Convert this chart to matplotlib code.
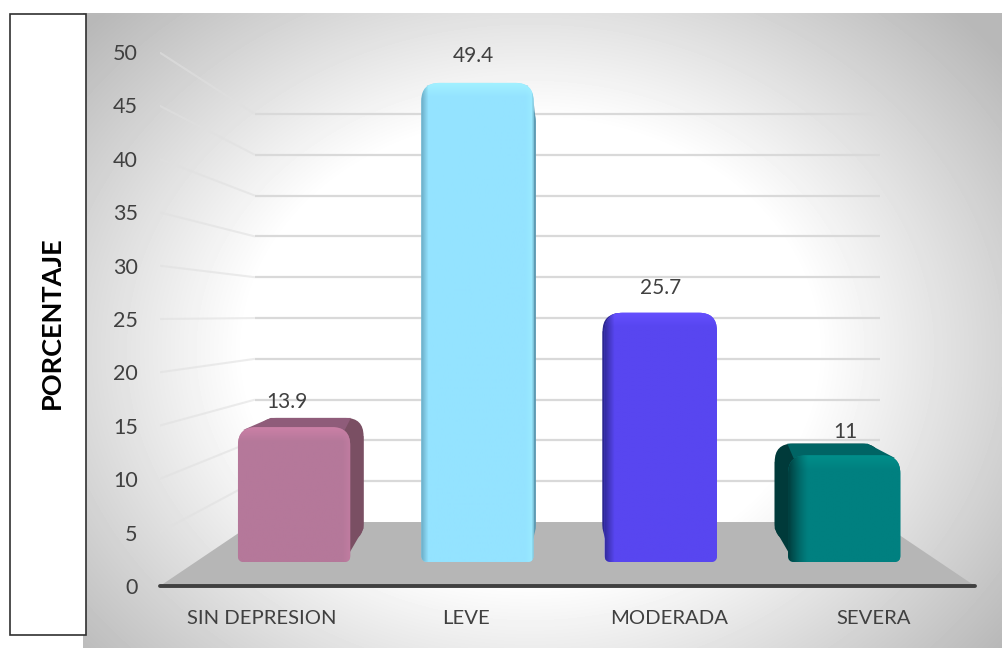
import numpy as np
import matplotlib
matplotlib.use("Agg")
import matplotlib.pyplot as plt
from matplotlib.patches import PathPatch, Polygon, Rectangle
from matplotlib.path import Path
from matplotlib.colors import to_rgb

# Chart data
categories = ["SIN DEPRESION", "LEVE", "MODERADA", "SEVERA"]
values = [13.9, 49.4, 25.7, 11]
y_ticks = list(range(0, 55, 5))
y_title = "PORCENTAJE"

# Per-bar colours: face, highlight, side wall, top wall
face_colors = ["#B5789A", "#94E3FF", "#5846F0", "#008080"]
glow_colors = ["#CB80A6", "#A2F2FF", "#6550FF", "#008E8A"]
side_colors = ["#7A4F63", "#5E9BB3", "#2C2790", "#003A3A"]
top_colors = ["#8F5C7A", "#7CC4DE", "#4A3CC8", "#006464"]
label_offsets = [(-5, 11.5), (-3, 19.5), (0, 18), (1, 8.5)]

W, H, DPI = 1003, 648, 100
AX_L, AX_R, AX_T, AX_B = 160, 975, 52, 586   # plot frame, in pixels
PX_X = (AX_R - AX_L) / 4.0                   # pixels per category unit
PX_Y = (AX_B - AX_T) / 50.0                  # pixels per value unit

# Perspective planes: (horizontal scale, height of value 0, vertical scale)
WALL = (0.767, 5.99, 0.764)
BAR_FRONT = (0.90, 2.25, 0.908)
BAR_BACK = (0.845, 4.2, 0.83)
BAR_HALF = 0.306
BAR_SHIFT = 0.008
CENTER = 1.5


def plane_x(cat, plane):
    return CENTER + (cat - CENTER) * plane[0]


def plane_y(val, plane):
    return plane[1] + val * plane[2]


def rounded(xl, xr, yb, yt, rx_t, ry_t, rx_b, ry_b):
    """Outline with separate corner radii for the top and bottom edges."""
    verts = [(xl, yb + ry_b), (xl, yt - ry_t), (xl, yt), (xl + rx_t, yt),
             (xr - rx_t, yt), (xr, yt), (xr, yt - ry_t),
             (xr, yb + ry_b), (xr, yb), (xr - rx_b, yb),
             (xl + rx_b, yb), (xl, yb), (xl, yb + ry_b), (xl, yb + ry_b)]
    codes = [Path.MOVETO, Path.LINETO, Path.CURVE3, Path.CURVE3,
             Path.LINETO, Path.CURVE3, Path.CURVE3,
             Path.LINETO, Path.CURVE3, Path.CURVE3,
             Path.LINETO, Path.CURVE3, Path.CURVE3, Path.CLOSEPOLY]
    return Path(verts, codes)


def blend(img, color, weight):
    """Mix a colour into an RGB array; weight broadcasts over rows and columns."""
    return img * (1 - weight) + np.array(to_rgb(color)) * weight


plt.rcParams["font.family"] = ["Lato", "DejaVu Sans"]
fig = plt.figure(figsize=(W / DPI, H / DPI), dpi=DPI, facecolor="white")

# Backdrop: radial grey-to-white fill and the boxed title panel
bg = fig.add_axes([0, 0, 1, 1], zorder=0)
gx, gy = np.meshgrid(np.arange(83, W), np.arange(13, H))
rad = np.sqrt(((gx - 530) / 520.0) ** 2 + ((gy - 350) / 420.0) ** 2)
shade = 1.0 - 0.28 * np.clip((rad - 0.55) / 0.60, 0, 1)
bg.imshow(shade, cmap="gray", vmin=0, vmax=1, extent=(83, W, H, 13), aspect="auto")
bg.set_xlim(0, W)
bg.set_ylim(H, 0)
bg.axis("off")
bg.add_patch(Rectangle((10.5, 13.5), 76, 621, facecolor="white", edgecolor="#303030", lw=1.2))

# Main axes: x in category units, y in value units on the front plane
ax = fig.add_axes([AX_L / W, 1 - AX_B / H, (AX_R - AX_L) / W, (AX_B - AX_T) / H], zorder=1)
ax.patch.set_alpha(0)
for name in ("top", "left", "right"):
    ax.spines[name].set_visible(False)
ax.spines["bottom"].set_color("#404040")
ax.spines["bottom"].set_linewidth(2.8)
ax.spines["bottom"].set_capstyle("round")
ax.set_xticks(range(len(categories)), categories)
ax.set_yticks(y_ticks)
ax.tick_params(length=0, labelcolor="#404040")
ax.tick_params(axis="x", pad=17.5, labelsize=14.6)
ax.tick_params(axis="y", pad=16, labelsize=15.5)
ax.set_ylabel(y_title, fontsize=19.5, fontweight="bold", color="black", va="center")
ax.yaxis.set_label_coords((52 - AX_L) / (AX_R - AX_L), (AX_B - 323) / (AX_B - AX_T))

# Floor
ax.add_patch(Polygon(
    [(-0.5, 0), (3.5, 0), (plane_x(3.5, WALL), WALL[1]), (plane_x(-0.5, WALL), WALL[1])],
    facecolor="#B6B6B6", edgecolor="none", zorder=1))

# Back-wall gridlines with their faint side-wall returns
wall_l, wall_r = plane_x(-0.5, WALL), plane_x(3.5, WALL)
for t in y_ticks[1:]:
    yw = plane_y(t, WALL)
    ax.plot([wall_l, wall_r], [yw, yw], color="#D9D9D9", lw=1.6, zorder=2, solid_capstyle="butt")
    ax.plot([-0.505, wall_l], [t, yw], color="#E0E0E0", lw=1.5, zorder=2,
            solid_capstyle="butt", alpha=0.6)

RX, RY = 18 / PX_X, 18 / PX_Y        # top corner radius
RX_B, RY_B = 6 / PX_X, 6 / PX_Y      # bottom corner radius

for i, (val, face, glow, side, top) in enumerate(
        zip(values, face_colors, glow_colors, side_colors, top_colors)):
    z = 4 + i
    fl = plane_x(i - BAR_HALF, BAR_FRONT) + BAR_SHIFT
    fr = plane_x(i + BAR_HALF, BAR_FRONT) + BAR_SHIFT
    bl = plane_x(i - BAR_HALF, BAR_BACK) + BAR_SHIFT
    br = plane_x(i + BAR_HALF, BAR_BACK) + BAR_SHIFT
    fb, ft = BAR_FRONT[1], plane_y(val, BAR_FRONT)
    bb, bt = BAR_BACK[1], plane_y(val, BAR_BACK)

    # Back shell, then top and the visible side wall
    ax.add_patch(PathPatch(rounded(bl, br, bb, bt, RX, RY, RX, RY), facecolor=side,
                           edgecolor="none", zorder=z))
    ax.add_patch(Polygon([(fl + RX * 0.3, ft - RY * 0.15), (bl + RX * 0.7, bt), (br - RX * 0.7, bt),
                          (fr - RX * 0.3, ft - RY * 0.15)], facecolor=top, edgecolor="none", zorder=z))
    if i < 2:
        wall = [(fr, ft - RY), (br, bt - RY), (br, bb + RY * 0.7), (fr - RX_B, fb)]
    else:
        wall = [(fl, ft - RY), (bl, bt - RY), (bl, bb + RY * 0.7), (fl + RX_B, fb)]
    ax.add_patch(Polygon(wall, facecolor=side, edgecolor="none", zorder=z))

    # Front face: shaded image clipped to the rounded outline
    clip = PathPatch(rounded(fl, fr, fb, ft, RX, RY, RX_B, RY_B), facecolor=face,
                     edgecolor="none", zorder=z + 0.1)
    ax.add_patch(clip)
    h_px = max(int((ft - fb) * PX_Y), 2)
    w_px = max(int((fr - fl) * PX_X), 2)
    dist = np.arange(w_px, dtype=float)[None, :, None]
    rows = np.arange(h_px, dtype=float)[:, None, None]
    img = np.ones((h_px, w_px, 3)) * np.array(to_rgb(face))
    # Lit strip along the top edge and along the far vertical edge
    img = blend(img, glow, np.clip(1 - rows / 14, 0, 1))
    if i < 2:
        img = blend(img, glow, np.clip(1 - (w_px - dist) / 9, 0, 1) * 0.6)
    # Dark rolled edge on the side turned away from the light
    if i == 1:
        img = blend(img, side, np.clip(1 - dist / 7, 0, 1) * 0.75)
        img = blend(img, side, np.clip(1 - (w_px - dist) / 3, 0, 1) * 0.7)
    elif i == 2:
        img = blend(img, side, np.clip(1 - dist / 9, 0, 1) * 0.8)
    elif i == 3:
        img = blend(img, side, np.clip(1 - dist / 20, 0, 1) ** 1.3 * 0.95)
    im = ax.imshow(img, extent=(fl, fr, fb, ft), aspect="auto", origin="upper",
                   interpolation="bilinear", zorder=z + 0.2)
    im.set_clip_path(clip)

    # Value label above the bar
    ax.annotate(f"{val:g}", xy=(plane_x(i, BAR_FRONT) + BAR_SHIFT, max(ft, bt)),
                xytext=label_offsets[i], textcoords="offset points",
                ha="center", va="center", fontsize=15, color="#404040", zorder=20,
                annotation_clip=False)

ax.set_xlim(-0.5, 3.5)
ax.set_ylim(0, 50)

fig.savefig("out.png", dpi=DPI)
